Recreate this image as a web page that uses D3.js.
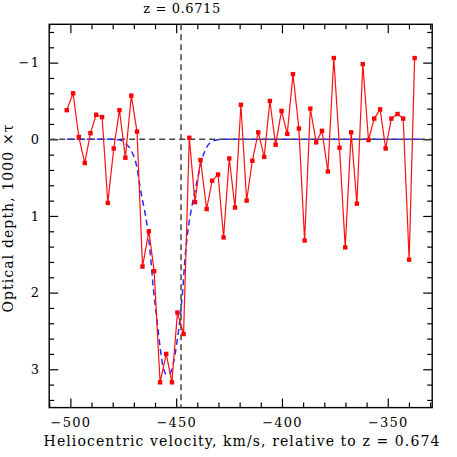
<!DOCTYPE html>
<html>
<head>
<meta charset="utf-8">
<script src="https://cdn.jsdelivr.net/npm/d3@7"></script>
<style>
  body { margin: 0; background: #fff; }
  svg { display: block; }
  text { font-family: "DejaVu Serif", serif; fill: #000; }
</style>
</head>
<body>
<svg width="457" height="457"></svg>
<script>
var velocity = [-501.7, -498.7, -496.0, -493.2, -490.5, -487.8, -485.0, -482.3, -479.5, -476.8,
  -474.0, -471.2, -468.5, -465.9, -462.9, -460.4, -457.6, -454.7, -452.0, -449.4,
  -446.5, -443.8, -441.1, -438.5, -435.6, -433.0, -430.2, -427.6, -424.9, -422.2,
  -419.4, -416.7, -414.0, -411.2, -408.4, -405.7, -403.0, -400.2, -397.5, -394.8,
  -392.0, -389.3, -386.6, -383.8, -381.1, -378.3, -375.5, -372.8, -370.1, -367.3,
  -364.6, -361.8, -359.1, -356.4, -353.6, -351.0, -348.3, -345.4, -342.7, -339.9,
  -337.3];

// optical depth (1000 x tau) of each point
var depth = [-0.38, -0.60, -0.03, 0.31, -0.08, -0.32, -0.29, 0.83, 0.12, -0.38,
  0.24, -0.57, -0.10, 1.66, 1.20, 1.72, 3.17, 2.80, 3.17, 2.26,
  2.54, -0.02, 0.82, 0.27, 0.91, 0.54, 0.46, 1.28, 0.25, 0.89,
  -0.45, 0.80, 0.28, -0.09, 0.23, -0.50, 0.07, -0.37, -0.07, -0.85,
  -0.14, 1.32, -0.40, 0.04, -0.11, 0.42, -1.06, 0.11, 1.41, -0.09,
  0.84, -0.98, 0.01, -0.27, -0.39, 0.12, -0.27, -0.33, -0.27, 1.57,
  -1.06];

// fitted model (blue dashed)
var fitVelocity = [-501.7, -478.9, -476.5, -474.2, -471.0, -468.6, -467.1, -465.0, -463.9, -462.3,
  -460.8, -459.2, -457.6, -456.1, -454.4, -452.8, -451.3, -449.7, -448.1, -446.9,
  -445.8, -444.2, -442.6, -440.3, -437.9, -435.5, -432.4, -428.4, -334.7];
var fitDepth = [0, 0, 0.01, 0.05, 0.16, 0.36, 0.62, 0.92, 1.09, 1.47,
  1.94, 2.32, 2.71, 2.98, 3.07, 3.05, 2.92, 2.66, 2.32, 1.97,
  1.55, 1.14, 0.88, 0.57, 0.27, 0.10, 0.02, 0, 0];

var xMajor = [-500, -450, -400, -350];
var yMajor = [-1, 0, 1, 2, 3];
var zLine = -447.7;   // z = 0.6715 relative to z = 0.674
var title = "z = 0.6715";
var xTitle = "Heliocentric velocity, km/s, relative to z = 0.674";
var yTitle = "Optical depth, 1000 \u00d7\u03c4";

var svg = d3.select("svg"),
    pLeft = 49.2, pRight = 432.2, pTop = 24.3, pBottom = 407.6;

var x = d3.scaleLinear().domain([-510, -329]).range([pLeft, pRight]);
var y = d3.scaleLinear().domain([-1.5, 3.5]).range([pTop, pBottom]);

var xMinor = d3.range(-510, -329, 10).filter(function(v) { return xMajor.indexOf(v) < 0; });
var yMinor = d3.range(-1.4, 3.5, 0.2).map(function(v) { return Math.round(v * 10) / 10; })
    .filter(function(v) { return yMajor.indexOf(v) < 0; });

// assen, tikken naar binnen aan alle vier kanten
function axis(gen, tx, ty, ticks, size, labels, pad) {
  var g = svg.append("g")
      .attr("transform", "translate(" + tx + "," + ty + ")")
      .call(gen.tickValues(ticks).tickSize(size).tickSizeOuter(0)
        .tickPadding(pad || 0).tickFormat(d3.format("d")));
  g.select(".domain").remove();
  g.selectAll("line").attr("stroke", "#000").attr("stroke-width", 1.2);
  if (!labels) g.selectAll("text").remove();
  else g.selectAll("text")
      .style("font-size", "13px")
      .style("font-family", "DejaVu Serif")
      .style("letter-spacing", "1.2px");
  return g;
}
axis(d3.axisBottom(x), 0, pBottom, xMajor, -9, true, 10);
axis(d3.axisBottom(x), 0, pBottom, xMinor, -5, false);
axis(d3.axisTop(x), 0, pTop, xMajor, -9, false);
axis(d3.axisTop(x), 0, pTop, xMinor, -5, false);
axis(d3.axisLeft(y), pLeft, 0, yMajor, -9, true, 9);
axis(d3.axisLeft(y), pLeft, 0, yMinor, -5, false);
axis(d3.axisRight(y), pRight, 0, yMajor, -9, false);
axis(d3.axisRight(y), pRight, 0, yMinor, -5, false);

svg.append("rect")
    .attr("x", pLeft).attr("y", pTop)
    .attr("width", pRight - pLeft).attr("height", pBottom - pTop)
    .attr("fill", "none").attr("stroke", "#000").attr("stroke-width", 1.4);

// stippellijnen op tau = 0 en op de z van de absorptie
svg.append("line")
    .attr("x1", pLeft).attr("x2", pRight)
    .attr("y1", y(0)).attr("y2", y(0))
    .attr("stroke", "#444").attr("stroke-width", 1.5).attr("stroke-dasharray", "6,4");
svg.append("line")
    .attr("x1", x(zLine)).attr("x2", x(zLine))
    .attr("y1", pTop).attr("y2", pBottom)
    .attr("stroke", "#444").attr("stroke-width", 1.5).attr("stroke-dasharray", "6,4");

var line = d3.line()
    .x(function(d) { return x(d[0]); })
    .y(function(d) { return y(d[1]); });

var fit = d3.zip(fitVelocity, fitDepth);
svg.append("path")
    .attr("d", d3.line().curve(d3.curveMonotoneX)
        .x(function(d) { return x(d[0]); })
        .y(function(d) { return y(d[1]); })(fit))
    .attr("fill", "none").attr("stroke", "#2a2aff").attr("stroke-width", 1.5)
    .attr("stroke-dasharray", "6,4");

var pts = d3.zip(velocity, depth);
svg.append("path")
    .attr("d", line(pts))
    .attr("fill", "none").attr("stroke", "#ff1010").attr("stroke-width", 1.2);

svg.selectAll(".pt")
    .data(pts)
    .enter().append("rect")
    .attr("class", "pt")
    .attr("x", function(d) { return x(d[0]) - 2.2; })
    .attr("y", function(d) { return y(d[1]) - 2.2; })
    .attr("width", 4.4).attr("height", 4.4)
    .attr("fill", "#ff0000");

// titels
svg.append("text")
    .attr("x", x(zLine) + 1).attr("y", 13)
    .attr("text-anchor", "middle")
    .style("font-size", "13px")
    .style("letter-spacing", "0.6px")
    .text(title);

svg.append("text")
    .attr("x", 242).attr("y", 446)
    .attr("text-anchor", "middle")
    .style("font-size", "14px")
    .style("letter-spacing", "1.1px")
    .text(xTitle);

svg.append("text")
    .attr("transform", "translate(13,218) rotate(-90)")
    .attr("text-anchor", "middle")
    .style("font-size", "14px")
    .style("letter-spacing", "1.1px")
    .text(yTitle);
</script>
</body>
</html>
